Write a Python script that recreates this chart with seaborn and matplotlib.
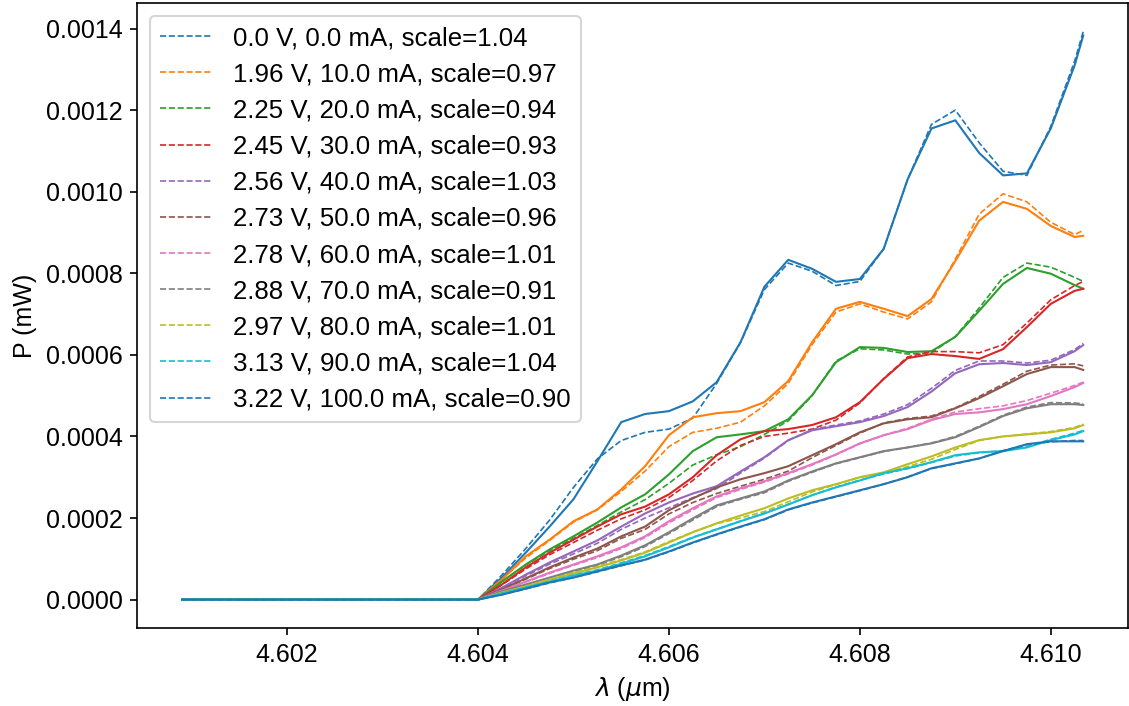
import numpy as np
import matplotlib
matplotlib.use("Agg")
import matplotlib.pyplot as plt
import seaborn as sns

# wavelength grid (um)
lam = [4.6009, 4.6040, 4.60425, 4.6045, 4.60475, 4.6050, 4.60525, 4.6055, 4.60575,
       4.6060, 4.60625, 4.6065, 4.60675, 4.6070, 4.60725, 4.6075, 4.60775, 4.6080,
       4.60825, 4.6085, 4.60875, 4.6090, 4.60925, 4.6095, 4.60975, 4.6100, 4.61025,
       4.61034]

volts = [0.0, 1.96, 2.25, 2.45, 2.56, 2.73, 2.78, 2.88, 2.97, 3.13, 3.22]
currents = [0.0, 10.0, 20.0, 30.0, 40.0, 50.0, 60.0, 70.0, 80.0, 90.0, 100.0]
scales = [1.04, 0.97, 0.94, 0.93, 1.03, 0.96, 1.01, 0.91, 1.01, 1.04, 0.90]

# power in units of 1e-4 mW, solid curves
p00_solid = [0, 0, 0.54, 1.15, 1.79, 2.46, 3.39, 4.35, 4.55, 4.62, 4.86, 5.33, 6.31, 7.67, 8.33, 8.11, 7.79, 7.86, 8.6, 10.3, 11.55, 11.75, 10.95, 10.4, 10.45, 11.55, 13.1, 13.83]
p10_solid = [0, 0, 0.49, 1.06, 1.47, 1.92, 2.21, 2.7, 3.27, 4.03, 4.47, 4.57, 4.62, 4.84, 5.36, 6.31, 7.13, 7.3, 7.13, 6.95, 7.37, 8.3, 9.29, 9.75, 9.58, 9.16, 8.89, 8.92]
p20_solid = [0, 0, 0.44, 0.86, 1.23, 1.55, 1.89, 2.26, 2.58, 3.07, 3.64, 3.98, 4.05, 4.13, 4.42, 5.01, 5.82, 6.19, 6.17, 6.07, 6.09, 6.44, 7.08, 7.74, 8.13, 7.99, 7.71, 7.62]
p30_solid = [0, 0, 0.37, 0.79, 1.15, 1.47, 1.79, 2.09, 2.28, 2.58, 3.0, 3.54, 3.93, 4.13, 4.18, 4.28, 4.47, 4.84, 5.41, 5.92, 6.02, 5.97, 5.9, 6.14, 6.68, 7.25, 7.57, 7.62]
p40_solid = [0, 0, 0.29, 0.61, 0.91, 1.18, 1.45, 1.79, 2.11, 2.38, 2.6, 2.78, 3.14, 3.49, 3.91, 4.15, 4.25, 4.35, 4.5, 4.72, 5.1, 5.55, 5.77, 5.8, 5.75, 5.82, 6.09, 6.24]
p50_solid = [0, 0, 0.25, 0.52, 0.79, 1.03, 1.25, 1.55, 1.79, 2.19, 2.48, 2.75, 2.95, 3.1, 3.27, 3.54, 3.81, 4.1, 4.32, 4.42, 4.47, 4.69, 4.94, 5.23, 5.53, 5.7, 5.7, 5.63]
p60_solid = [0, 0, 0.22, 0.44, 0.66, 0.86, 1.06, 1.28, 1.55, 1.92, 2.24, 2.53, 2.73, 2.9, 3.1, 3.32, 3.56, 3.83, 4.03, 4.18, 4.4, 4.55, 4.59, 4.67, 4.79, 4.99, 5.21, 5.31]
p70_solid = [0, 0, 0.2, 0.37, 0.54, 0.71, 0.86, 1.08, 1.33, 1.65, 1.99, 2.31, 2.48, 2.65, 2.92, 3.14, 3.34, 3.49, 3.64, 3.73, 3.83, 3.98, 4.23, 4.5, 4.69, 4.79, 4.79, 4.77]
p80_solid = [0, 0, 0.17, 0.32, 0.49, 0.64, 0.79, 0.96, 1.15, 1.4, 1.65, 1.87, 2.06, 2.24, 2.48, 2.68, 2.83, 3.0, 3.12, 3.32, 3.51, 3.73, 3.91, 4.0, 4.05, 4.1, 4.2, 4.28]
p90_solid = [0, 0, 0.15, 0.29, 0.44, 0.59, 0.71, 0.88, 1.06, 1.28, 1.52, 1.72, 1.92, 2.11, 2.33, 2.56, 2.75, 2.92, 3.1, 3.22, 3.37, 3.54, 3.61, 3.64, 3.73, 3.91, 4.05, 4.13]
p100_solid = [0, 0, 0.12, 0.27, 0.42, 0.54, 0.69, 0.84, 0.98, 1.18, 1.4, 1.6, 1.79, 1.97, 2.21, 2.38, 2.53, 2.68, 2.83, 3.0, 3.22, 3.34, 3.46, 3.64, 3.81, 3.88, 3.88, 3.88]

# power in units of 1e-4 mW, dashed (scaled) curves
p00_dash = [0, 0, 0.6, 1.25, 1.95, 2.75, 3.45, 3.9, 4.1, 4.18, 4.45, 5.3, 6.3, 7.6, 8.25, 8.05, 7.7, 7.8, 8.6, 10.3, 11.65, 12.0, 11.2, 10.5, 10.4, 11.6, 13.2, 13.93]
p10_dash = [0, 0, 0.5, 1.02, 1.45, 1.9, 2.2, 2.65, 3.15, 3.75, 4.1, 4.2, 4.35, 4.75, 5.3, 6.25, 7.05, 7.25, 7.05, 6.88, 7.3, 8.35, 9.45, 9.95, 9.75, 9.25, 8.95, 9.05]
p20_dash = [0, 0, 0.44, 0.85, 1.2, 1.5, 1.82, 2.15, 2.45, 2.85, 3.3, 3.55, 3.75, 4.05, 4.38, 5.0, 5.85, 6.15, 6.12, 6.02, 6.05, 6.45, 7.15, 7.9, 8.25, 8.15, 7.9, 7.8]
p30_dash = [0, 0, 0.36, 0.75, 1.1, 1.4, 1.7, 1.98, 2.2, 2.5, 2.92, 3.4, 3.78, 4.0, 4.08, 4.18, 4.4, 4.82, 5.42, 5.95, 6.08, 6.08, 6.05, 6.25, 6.78, 7.35, 7.7, 7.8]
p40_dash = [0, 0, 0.28, 0.58, 0.87, 1.12, 1.38, 1.72, 2.0, 2.25, 2.5, 2.72, 3.1, 3.47, 3.9, 4.17, 4.28, 4.38, 4.55, 4.78, 5.18, 5.62, 5.85, 5.85, 5.8, 5.87, 6.13, 6.28]
p50_dash = [0, 0, 0.24, 0.5, 0.76, 0.99, 1.2, 1.5, 1.72, 2.1, 2.38, 2.6, 2.78, 2.95, 3.15, 3.48, 3.78, 4.08, 4.33, 4.44, 4.5, 4.7, 4.98, 5.28, 5.6, 5.75, 5.78, 5.73]
p60_dash = [0, 0, 0.21, 0.43, 0.64, 0.84, 1.03, 1.25, 1.52, 1.88, 2.2, 2.5, 2.7, 2.88, 3.08, 3.3, 3.55, 3.82, 4.03, 4.2, 4.42, 4.6, 4.68, 4.75, 4.88, 5.06, 5.25, 5.33]
p70_dash = [0, 0, 0.19, 0.36, 0.52, 0.69, 0.84, 1.05, 1.3, 1.62, 1.95, 2.28, 2.46, 2.62, 2.9, 3.12, 3.33, 3.48, 3.63, 3.73, 3.84, 4.0, 4.25, 4.52, 4.72, 4.83, 4.82, 4.8]
p80_dash = [0, 0, 0.17, 0.33, 0.5, 0.66, 0.81, 0.98, 1.17, 1.42, 1.66, 1.86, 2.0, 2.16, 2.4, 2.64, 2.82, 3.0, 3.1, 3.26, 3.44, 3.68, 3.9, 4.0, 4.06, 4.12, 4.22, 4.3]
p90_dash = [0, 0, 0.15, 0.3, 0.45, 0.6, 0.73, 0.9, 1.08, 1.3, 1.53, 1.73, 1.93, 2.12, 2.34, 2.56, 2.76, 2.93, 3.08, 3.21, 3.36, 3.52, 3.6, 3.65, 3.75, 3.93, 4.08, 4.15]
p100_dash = [0, 0, 0.12, 0.26, 0.41, 0.54, 0.68, 0.83, 0.97, 1.17, 1.39, 1.59, 1.78, 1.96, 2.2, 2.37, 2.52, 2.67, 2.83, 3.01, 3.21, 3.33, 3.46, 3.65, 3.8, 3.87, 3.9, 3.9]

solid = [p00_solid, p10_solid, p20_solid, p30_solid, p40_solid, p50_solid,
         p60_solid, p70_solid, p80_solid, p90_solid, p100_solid]
dashed = [p00_dash, p10_dash, p20_dash, p30_dash, p40_dash, p50_dash,
          p60_dash, p70_dash, p80_dash, p90_dash, p100_dash]
UNIT = 1e-4  # mW

plt.rcParams['font.family'] = ['Liberation Sans', 'DejaVu Sans']
plt.rcParams['font.size'] = 12

fig, ax = plt.subplots(figsize=(1129 / 150, 706 / 150), dpi=150)
fig.subplots_adjust(left=137 / 1129, right=1128.3 / 1129, bottom=1 - 628 / 706, top=1 - 3 / 706)

palette = sns.color_palette('tab10')
for k in range(len(solid)):
    color = palette[k % 10]
    label = f"{volts[k]} V, {currents[k]} mA, scale={scales[k]:.2f}"
    sns.lineplot(x=lam, y=np.array(solid[k]) * UNIT, ax=ax, color=color,
                 lw=1.0, estimator=None, sort=False)
    sns.lineplot(x=lam, y=np.array(dashed[k]) * UNIT, ax=ax, color=color,
                 lw=0.8, linestyle='--', label=label, estimator=None, sort=False)

ax.ticklabel_format(axis='x', useOffset=False)
ax.set_xlabel(r'$\lambda$ ($\mu$m)')
ax.set_ylabel('P (mW)')
ax.legend(loc='upper left', prop={'size': 12.4}, labelspacing=0.47)

fig.savefig('out.png', dpi=150)
